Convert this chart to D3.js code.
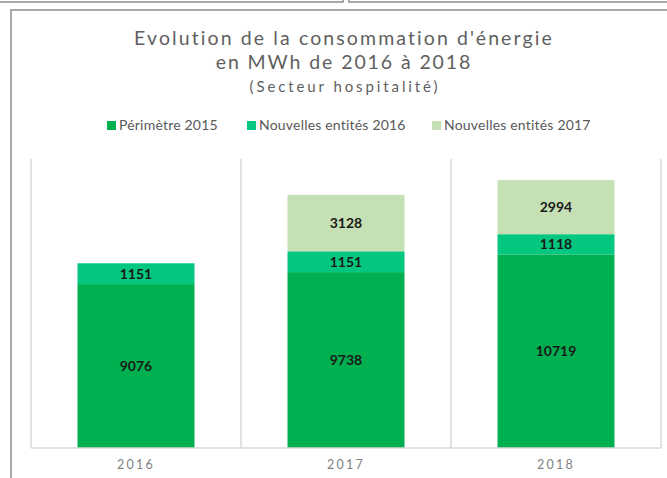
<!DOCTYPE html>
<html>
<head>
<meta charset="utf-8">
<script src="https://cdn.jsdelivr.net/npm/d3@7"></script>
<style>
  body { margin: 0; background: #fff; }
  svg { display: block; font-family: Lato, "Open Sans", sans-serif; }
</style>
</head>
<body>
<svg id="chart"></svg>
<script>
const years = ["2016", "2017", "2018"];
const seriesNames = ["Périmètre 2015", "Nouvelles entités 2016", "Nouvelles entités 2017"];
const perimetre2015 = [9076, 9738, 10719];
const nouvelles2016 = [1151, 1151, 1118];
const nouvelles2017 = [0, 3128, 2994];
const colors = ["#00b050", "#03c67f", "#c5e0b4"];

const WIDTH = 667, HEIGHT = 478;
const margin = { left: 31, right: 6, top: 159, bottom: 30 };

const svg = d3.select("#chart")
  .attr("width", WIDTH)
  .attr("height", HEIGHT);

// bits of neighbouring boxes at the very top
svg.append("path")
  .attr("d", "M0,2H343V-2M349,-2V2H667")
  .style("fill", "none")
  .style("stroke", "#8c8c8c")
  .style("stroke-width", 1.5);

// chart frame
svg.append("path")
  .attr("d", "M11,480V10H670")
  .style("fill", "none")
  .style("stroke", "#8c8c8c")
  .style("stroke-width", 1.5);

// title
const title = svg.append("text")
  .attr("text-anchor", "middle")
  .style("fill", "#5f5f5f");
title.append("tspan")
  .attr("x", 344).attr("y", 45)
  .style("font-size", "19.5px")
  .style("letter-spacing", "2.1px")
  .text("Evolution de la consommation d'énergie");
title.append("tspan")
  .attr("x", 344).attr("y", 69)
  .style("font-size", "19.5px")
  .style("letter-spacing", "1.9px")
  .text("en MWh de 2016 à 2018");
title.append("tspan")
  .attr("x", 345).attr("y", 92)
  .style("font-size", "15px")
  .style("letter-spacing", "2.9px")
  .text("(Secteur hospitalité)");

// legend
const legendX = [107, 247, 432];
const legend = svg.append("g").attr("class", "legend");
seriesNames.forEach((name, i) => {
  legend.append("rect")
    .attr("x", legendX[i]).attr("y", 121)
    .attr("width", 9).attr("height", 9)
    .style("fill", colors[i]);
  legend.append("text")
    .attr("x", legendX[i] + 12).attr("y", 130)
    .style("font-size", "14px")
    .style("letter-spacing", "0.2px")
    .style("fill", "#595959")
    .text(name);
});

const x = d3.scaleBand()
  .domain(years)
  .range([margin.left, WIDTH - margin.right])
  .paddingInner(0.443)
  .paddingOuter(0.2215);

const y = d3.scaleLinear()
  .domain([0, 16000])
  .range([HEIGHT - margin.bottom, margin.top]);

const step = x.step();
const x0 = margin.left;

// category separators
const grid = svg.append("g").attr("class", "grid");
d3.range(years.length + 1).forEach((i) => {
  grid.append("line")
    .attr("x1", x0 + i * step).attr("x2", x0 + i * step)
    .attr("y1", y(16000)).attr("y2", y(0))
    .style("stroke", "#d9d9d9")
    .style("stroke-width", 1.5);
});

const table = years.map((yr, i) => ({
  year: yr,
  s0: perimetre2015[i],
  s1: nouvelles2016[i],
  s2: nouvelles2017[i]
}));

const stacked = d3.stack().keys(["s0", "s1", "s2"])(table);

const layers = svg.selectAll(".layer")
  .data(stacked)
  .enter().append("g")
  .attr("class", "layer")
  .style("fill", (d, i) => colors[i]);

layers.selectAll("rect")
  .data(d => d)
  .enter().append("rect")
  .attr("x", d => x(d.data.year))
  .attr("width", x.bandwidth())
  .attr("y", d => y(d[1]))
  .attr("height", d => y(d[0]) - y(d[1]));

layers.selectAll(".lbl")
  .data(d => d.filter(p => p[1] - p[0] > 0))
  .enter().append("text")
  .attr("class", "lbl")
  .attr("x", d => x(d.data.year) + x.bandwidth() / 2)
  .attr("y", d => (y(d[0]) + y(d[1])) / 2 + 5)
  .attr("text-anchor", "middle")
  .style("font-size", "14px")
  .style("font-weight", "bold")
  .style("fill", "#1a1a1a")
  .text(d => d[1] - d[0]);

// baseline
svg.append("line")
  .attr("x1", x0).attr("x2", x0 + step * years.length)
  .attr("y1", y(0)).attr("y2", y(0))
  .style("stroke", "#d9d9d9")
  .style("stroke-width", 1.5);

// x axis labels
const xAxis = svg.append("g")
  .attr("transform", "translate(0," + y(0) + ")")
  .call(d3.axisBottom(x).tickSize(0).tickPadding(12));
xAxis.select(".domain").remove();
xAxis.selectAll("text")
  .style("font-family", "Lato, 'Open Sans', sans-serif")
  .style("font-size", "12.5px")
  .style("letter-spacing", "2.2px")
  .style("fill", "#7f7f7f");
</script>
</body>
</html>
